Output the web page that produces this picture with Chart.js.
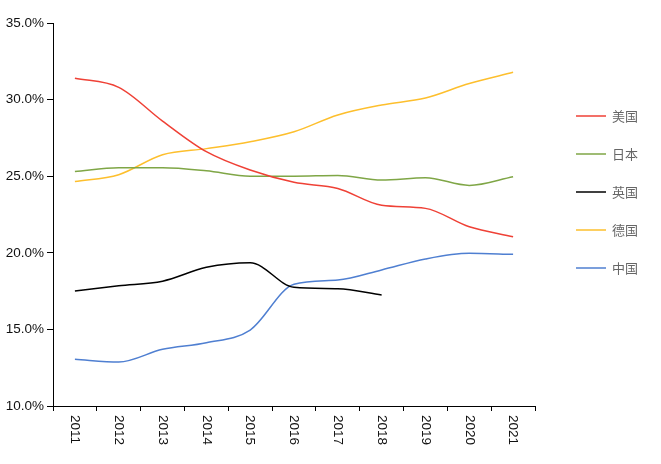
<!DOCTYPE html>
<html>
<head>
<meta charset="utf-8">
<script src="https://cdn.jsdelivr.net/npm/chart.js@4/dist/chart.umd.min.js"></script>
<style>
  html, body { margin: 0; padding: 0; background: #fff; }
  #wrap { width: 661px; height: 464px; }
</style>
</head>
<body>
<div id="wrap"><canvas id="c"></canvas></div>
<script>
const years = ['2011','2012','2013','2014','2015','2016','2017','2018','2019','2020','2021'];
const seriesNames = ['美国','日本','英国','德国','中国'];
const usa     = [31.4, 30.8, 28.6, 26.6, 25.4, 24.6, 24.2, 23.1, 22.9, 21.7, 21.05];
const japan   = [25.3, 25.55, 25.55, 25.35, 25.0, 25.0, 25.05, 24.75, 24.9, 24.4, 24.97];
const uk      = [17.5, 17.85, 18.15, 19.05, 19.35, 17.75, 17.66, 17.25, null, null, null];
const germany = [24.65, 25.1, 26.4, 26.8, 27.25, 27.9, 29.0, 29.65, 30.1, 31.05, 31.78];
const china   = [13.05, 12.87, 13.7, 14.13, 14.96, 17.95, 18.22, 18.88, 19.6, 19.97, 19.9];
const yTicks  = [10, 15, 20, 25, 30, 35];
const colors  = ['#ef4136', '#7fa646', '#000000', '#fdbf2d', '#4f7fd1'];

const values = [usa, japan, uk, germany, china];
const FONT = "'Liberation Sans', Arial, Helvetica, sans-serif";

const rotatedXLabels = {
  id: 'rotatedXLabels',
  afterDraw(chart) {
    const s = chart.scales.x;
    const ctx = chart.ctx;
    ctx.save();
    ctx.fillStyle = '#111';
    ctx.font = '13.5px ' + FONT;
    ctx.textAlign = 'left';
    ctx.textBaseline = 'middle';
    s.ticks.forEach((t, i) => {
      const x = s.getPixelForTick(i);
      ctx.save();
      ctx.translate(x, s.top + 9);
      ctx.rotate(Math.PI / 2);
      ctx.fillText(s.getLabelForValue(t.value), 0, 0);
      ctx.restore();
    });
    ctx.restore();
  }
};

const sideLegend = {
  id: 'sideLegend',
  afterDraw(chart) {
    const ctx = chart.ctx;
    const a = chart.chartArea;
    ctx.save();
    ctx.font = "13px 'Noto Sans CJK SC', sans-serif";
    ctx.textAlign = 'left';
    ctx.textBaseline = 'middle';
    chart.data.datasets.forEach((ds, i) => {
      const x = a.right + 41;
      const y = a.top + 93 + i * 38;
      ctx.strokeStyle = ds.borderColor;
      ctx.lineWidth = 1.5;
      ctx.beginPath();
      ctx.moveTo(x, y);
      ctx.lineTo(x + 30, y);
      ctx.stroke();
      ctx.fillStyle = '#666';
      ctx.fillText(ds.label, x + 36, y);
    });
    ctx.restore();
  }
};

new Chart(document.getElementById('c'), {
  type: 'line',
  data: {
    labels: years,
    datasets: seriesNames.map((n, i) => ({
      label: n,
      data: values[i],
      borderColor: colors[i],
      backgroundColor: colors[i],
      borderWidth: 1.5,
      pointRadius: 0,
      pointHoverRadius: 0,
      cubicInterpolationMode: 'monotone',
      spanGaps: false,
      fill: false
    }))
  },
  options: {
    responsive: true,
    maintainAspectRatio: false,
    animation: false,
    layout: { padding: { top: 23, right: 126, left: 0, bottom: 0 } },
    plugins: { legend: { display: false }, tooltip: { enabled: false } },
    scales: {
      x: {
        type: 'category',
        offset: true,
        grid: { offset: true, drawOnChartArea: false, drawTicks: true, tickLength: 5, color: '#000', tickWidth: 1 },
        border: { display: true, color: '#000', width: 1 },
        ticks: { minRotation: 90, maxRotation: 90, color: 'rgba(0,0,0,0)', font: { size: 13.5, family: FONT } },
        afterFit(s) { s.height = 58; }
      },
      y: {
        min: 10,
        max: 35,
        afterBuildTicks(s) { s.ticks = yTicks.map(v => ({ value: v })); },
        grid: { drawOnChartArea: false, drawTicks: true, tickLength: 6, color: '#000', tickWidth: 1 },
        border: { display: true, color: '#000', width: 1 },
        ticks: {
          color: '#111',
          padding: 3,
          font: { size: 13.5, family: FONT },
          callback: v => v.toFixed(1) + '%'
        },
        afterFit(s) { s.width = 53; }
      }
    }
  },
  plugins: [rotatedXLabels, sideLegend]
});
</script>
</body>
</html>
